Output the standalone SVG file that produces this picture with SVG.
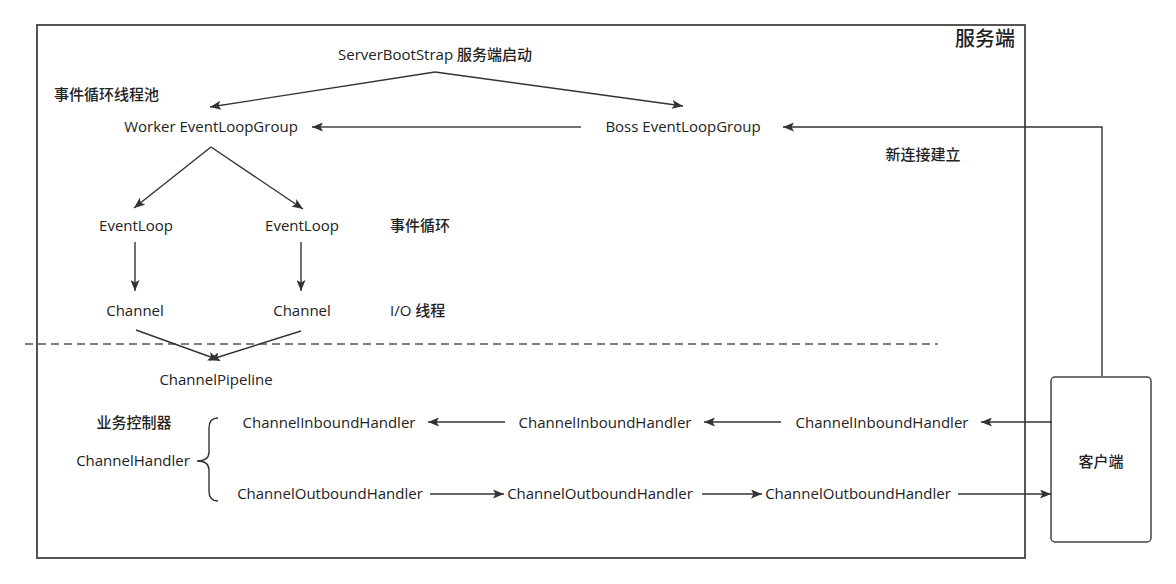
<svg xmlns="http://www.w3.org/2000/svg" width="1176" height="584" viewBox="0 0 1176 584">
<defs>
<style>
text{font-family:"Open Sans","Noto Sans CJK SC",sans-serif;font-size:15px;fill:#222;font-weight:500;}
.m{text-anchor:middle;}
.big{font-size:20px;}
.c{fill:none;stroke:#333;stroke-width:1.4;}
.cc{fill:none;stroke:#444;stroke-width:1.6;}
</style>
<marker id="ah" viewBox="0 0 11 9" refX="11" refY="4.5" markerWidth="11" markerHeight="9" markerUnits="userSpaceOnUse" orient="auto">
<path d="M0,0 L11,4.5 L0,9 L2.5,4.5 Z" fill="#333"/>
</marker>
</defs>
<rect width="1176" height="584" fill="#fff"/>
<g id="server">
<rect x="37" y="25" width="988" height="533" fill="none" stroke="#555" stroke-width="2"/>
<text class="big" x="985" y="46" text-anchor="middle">服务端</text>
</g>
<g id="client">
<rect x="1051" y="377" width="100" height="165" rx="4" fill="#fff" stroke="#444" stroke-width="1.5"/>
<text class="m" x="1101" y="467">客户端</text>
</g>
<g id="divider">
<path d="M25,344 L938,344" fill="none" stroke="#555" stroke-width="1.5" stroke-dasharray="8 5"/>
</g>
<g id="bootstrap"><text class="m" x="435" y="60">ServerBootStrap 服务端启动</text></g>
<g id="pool-label"><text x="54" y="100">事件循环线程池</text></g>
<g id="worker"><text class="m" x="211" y="132">Worker EventLoopGroup</text></g>
<g id="boss"><text class="m" x="683" y="132">Boss EventLoopGroup</text></g>
<g id="newconn-label"><text class="m" x="923" y="160">新连接建立</text></g>
<g id="eventloop1"><text class="m" x="136" y="231">EventLoop</text></g>
<g id="eventloop2"><text class="m" x="302" y="231">EventLoop</text></g>
<g id="eventloop-label"><text x="390" y="231">事件循环</text></g>
<g id="channel1"><text class="m" x="135" y="316">Channel</text></g>
<g id="channel2"><text class="m" x="302" y="316">Channel</text></g>
<g id="io-label"><text x="390" y="316">I/O 线程</text></g>
<g id="pipeline"><text class="m" x="216" y="385">ChannelPipeline</text></g>
<g id="handler">
<text class="m" x="134" y="428">业务控制器</text>
<text class="m" x="133" y="466">ChannelHandler</text>
<path d="M218,418 Q209,418 209,428 L209,452 Q209,461 197,461 Q209,461 209,470 L209,491 Q209,501 218,501" class="c"/>
</g>
<g id="inbound1"><text class="m" x="329" y="428">ChannelInboundHandler</text></g>
<g id="inbound2"><text class="m" x="605" y="428">ChannelInboundHandler</text></g>
<g id="inbound3"><text class="m" x="882" y="428">ChannelInboundHandler</text></g>
<g id="outbound1"><text class="m" x="330" y="499">ChannelOutboundHandler</text></g>
<g id="outbound2"><text class="m" x="600" y="499">ChannelOutboundHandler</text></g>
<g id="outbound3"><text class="m" x="858" y="499">ChannelOutboundHandler</text></g>
<g id="connectors">
<path class="c" d="M435,72 L210,107" marker-end="url(#ah)"/>
<path class="c" d="M435,72 L683,106" marker-end="url(#ah)"/>
<path class="cc" d="M581,127 L312,127" marker-end="url(#ah)"/>
<path class="c" d="M1102,376 L1102,127 L783,127" marker-end="url(#ah)"/>
<path class="c" d="M211,147 L134,208" marker-end="url(#ah)"/>
<path class="c" d="M211,147 L303,209" marker-end="url(#ah)"/>
<path class="c" d="M135,242 L135,291" marker-end="url(#ah)"/>
<path class="c" d="M301,242 L301,291" marker-end="url(#ah)"/>
<path class="c" d="M136,330 L219,360" marker-end="url(#ah)"/>
<path class="c" d="M301,331 L209,360" marker-end="url(#ah)"/>
<path class="c" d="M1052,422 L981,422" marker-end="url(#ah)"/>
<path class="c" d="M781,422 L704,422" marker-end="url(#ah)"/>
<path class="c" d="M505,422 L428,422" marker-end="url(#ah)"/>
<path class="c" d="M430,494 L504,494" marker-end="url(#ah)"/>
<path class="c" d="M702,494 L762,494" marker-end="url(#ah)"/>
<path class="c" d="M958,494 L1051,494" marker-end="url(#ah)"/>
</g>
</svg>
